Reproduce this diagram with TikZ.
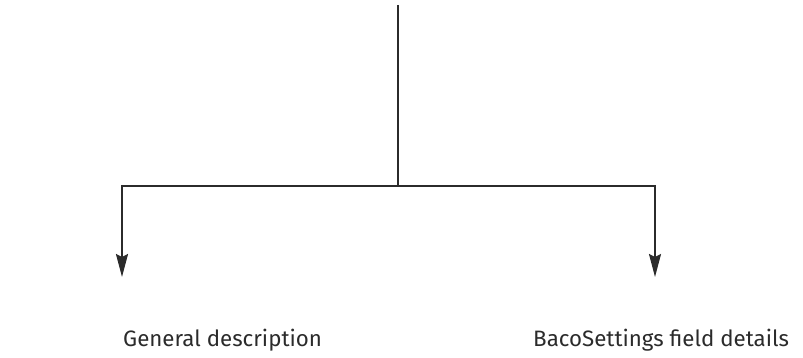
\documentclass[tikz,border=0pt]{standalone}
\usepackage{fontspec}
\setmainfont{Fira Sans}
\usetikzlibrary{arrows.meta}
\definecolor{ink}{HTML}{2B2B2B}
\begin{document}
\begin{tikzpicture}[x=1pt,y=1pt,
  conn/.style={draw=ink,line width=2pt},
  arr/.style={conn,-{Stealth[length=23pt,width=12pt,inset=3pt]}},
  lbl/.style={text=ink,font=\fontsize{22.3}{26}\selectfont,inner sep=0pt,anchor=base west}]
\useasboundingbox (0,0) rectangle (803,358);
\coordinate (top) at (397.5,353);
\coordinate (mid) at (397.5,172);
\coordinate (lc) at (122,172);
\coordinate (rc) at (655,172);
\coordinate (lt) at (122,81);
\coordinate (rt) at (655,81);
\node[lbl] (gd) at (123,11) {General description};
\node[lbl] (bs) at (533,11) {BacoSettings field details};
\draw[conn] (top) -- (mid);
\draw[conn] (mid) -- (lc);
\draw[conn] (mid) -- (rc);
\draw[arr] ([yshift=1pt]lc) -- (lt);
\draw[arr] ([yshift=1pt]rc) -- (rt);
\end{tikzpicture}
\end{document}
